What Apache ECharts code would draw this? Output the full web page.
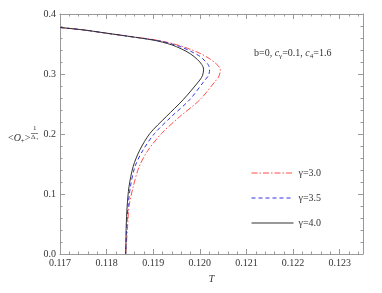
<!DOCTYPE html>
<html><head><meta charset="utf-8">
<script src="https://cdn.jsdelivr.net/npm/echarts@6/dist/echarts.min.js"></script>
<style>html,body{margin:0;padding:0;background:#fff}#c{width:382px;height:293px}</style>
</head><body><div id="c"></div>
<script>
var seriesNames = ['γ=3.0', 'γ=3.5', 'γ=4.0'];
var tRed = [0.1170, 0.1175, 0.1180, 0.1185, 0.1190, 0.1192, 0.1194, 0.1196, 0.1198, 0.1200, 0.1202, 0.12035, 0.12042, 0.12044, 0.12040, 0.12032, 0.12000, 0.11957, 0.11918, 0.11889, 0.11870, 0.11857, 0.11848, 0.11845, 0.11842, 0.11841];
var oRed = [0.3775, 0.3735, 0.368, 0.3625, 0.3575, 0.3545, 0.351, 0.3465, 0.341, 0.3345, 0.326, 0.317, 0.311, 0.306, 0.295, 0.287, 0.257, 0.229, 0.201, 0.173, 0.146, 0.112, 0.079, 0.046, 0.012, 0];
var tBlue = [0.1170, 0.1175, 0.1180, 0.1185, 0.1190, 0.1192, 0.1194, 0.1196, 0.1198, 0.1200, 0.12012, 0.12019, 0.12021, 0.12018, 0.12010, 0.11978, 0.11939, 0.11903, 0.11878, 0.11861, 0.11851, 0.11846, 0.11843, 0.11841];
var oBlue = [0.3775, 0.3735, 0.368, 0.3625, 0.357, 0.354, 0.350, 0.345, 0.338, 0.3295, 0.321, 0.314, 0.307, 0.297, 0.289, 0.257, 0.229, 0.201, 0.173, 0.146, 0.112, 0.079, 0.0455, 0];
var tBlack = [0.1170, 0.1175, 0.1180, 0.1185, 0.1190, 0.1192, 0.1194, 0.1196, 0.1198, 0.11995, 0.12004, 0.12008, 0.12006, 0.12000, 0.11964, 0.11928, 0.11893, 0.11871, 0.11857, 0.11848, 0.11844, 0.11842, 0.11841];
var oBlack = [0.3775, 0.3735, 0.368, 0.3625, 0.3565, 0.353, 0.3485, 0.342, 0.3335, 0.324, 0.316, 0.308, 0.298, 0.290, 0.257, 0.229, 0.201, 0.173, 0.146, 0.112, 0.079, 0.0455, 0];
var xMin = 0.117, xMax = 0.1235, xStep = 0.001;
var yMin = 0, yMax = 0.4, yStep = 0.1;

function pairs(t, o) { return t.map(function (v, i) { return [v, o[i]]; }); }

var font = 'Liberation Serif';
var axisCol = '#999';
function mkX(pos, lab) {
  return {
    type: 'value', position: pos, min: xMin, max: xMax, interval: xStep,
    axisLine: { show: true, onZero: false, lineStyle: { color: axisCol, width: 1 } },
    axisTick: { show: true, inside: true, length: 5, lineStyle: { color: axisCol } },
    minorTick: { show: true, splitNumber: 5, length: 2.5, lineStyle: { color: axisCol } },
    splitLine: { show: false },
    axisLabel: { show: lab, showMaxLabel: false, fontFamily: font, fontSize: 10, color: '#333', margin: 4,
      formatter: function (v) { return v.toFixed(3); } },
    name: lab ? 'T' : '', nameLocation: 'middle', nameGap: 20,
    nameTextStyle: { fontFamily: font, fontStyle: 'italic', fontSize: 10, color: '#333' }
  };
}
function mkY(pos, lab) {
  return {
    type: 'value', position: pos, min: yMin, max: yMax, interval: yStep,
    axisLine: { show: true, onZero: false, lineStyle: { color: axisCol, width: 1 } },
    axisTick: { show: true, inside: true, length: 5, lineStyle: { color: axisCol } },
    minorTick: { show: true, splitNumber: 5, length: 2.5, lineStyle: { color: axisCol } },
    splitLine: { show: false },
    axisLabel: { show: lab, fontFamily: font, fontSize: 10, color: '#333', margin: 4,
      formatter: function (v) { return v.toFixed(1); } }
  };
}
var chart = echarts.init(document.getElementById('c'));
chart.setOption({
  animation: false,
  grid: { left: 60, right: 19, top: 14, bottom: 39 },
  xAxis: [mkX('bottom', true), mkX('top', false)],
  yAxis: [mkY('left', true), mkY('right', false)],
  legend: {
    orient: 'vertical', left: 246, top: 163, itemWidth: 42, itemHeight: 10, itemGap: 15,
    itemStyle: { opacity: 0 }, lineStyle: { width: 1 },
    textStyle: { fontFamily: font, fontSize: 10, color: '#333', padding: [0, 0, 4, 0] },
    data: seriesNames
  },
  graphic: [
    { type: 'text', left: 254, top: 48, style: { text: 'b=0, {i|c}{s|γ}=0.1, {i|c}{s|4}=1.6', font: '10px ' + font, fill: '#333',
      rich: { i: { fontFamily: font, fontStyle: 'italic', fontSize: 10 }, s: { fontFamily: font, fontSize: 7, padding: [6, 0, 0, 0] } } } },
    { type: 'text', left: 8, top: 133, style: { text: '<{i|O}{s|+}>', font: '10px ' + font, fill: '#333',
      rich: { i: { fontFamily: font, fontStyle: 'italic', fontSize: 10 }, s: { fontFamily: font, fontSize: 7, padding: [6, 0, 0, 0] } } } },
    { type: 'text', left: 33, top: 125, style: { text: '1', font: '7px ' + font, fill: '#333' } },
    { type: 'line', shape: { x1: 31, y1: 133.5, x2: 38, y2: 133.5 }, style: { stroke: '#333', lineWidth: 0.6 } },
    { type: 'text', left: 31, top: 134, style: { text: 'Δ₊', font: '7px ' + font, fill: '#333' } }
  ],
  series: [
    { name: seriesNames[0], type: 'line', data: pairs(tRed, oRed), showSymbol: false, symbol: 'none', smooth: 0.3,
      lineStyle: { color: '#ff4d4d', width: 1, type: [6, 2, 1.5, 2] }, itemStyle: { color: '#ff4d4d' } },
    { name: seriesNames[1], type: 'line', data: pairs(tBlue, oBlue), showSymbol: false, symbol: 'none', smooth: 0.3,
      lineStyle: { color: '#3333dd', width: 1, type: [4, 3] }, itemStyle: { color: '#3333dd' } },
    { name: seriesNames[2], type: 'line', data: pairs(tBlack, oBlack), showSymbol: false, symbol: 'none', smooth: 0.3,
      lineStyle: { color: '#333333', width: 1 }, itemStyle: { color: '#333333' } }
  ]
});
</script></body></html>
